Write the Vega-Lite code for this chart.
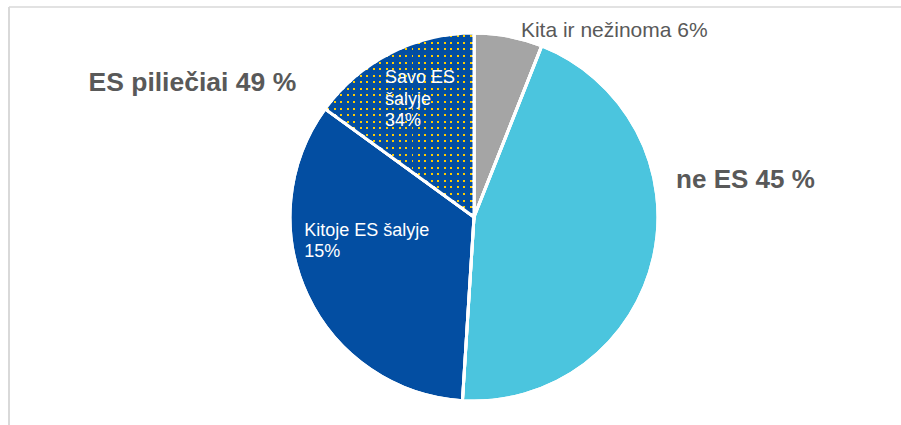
{
 "$schema": "https://vega.github.io/schema/vega-lite/v6.json",
 "width": 892,
 "height": 418,
 "autosize": {"type": "none"},
 "padding": {"left": 9, "top": 7, "right": 0, "bottom": 0},
 "background": "white",
 "config": {
  "view": {"stroke": null},
  "text": {"font": "Liberation Sans"}
 },
 "data": {"values": [
  {"cat": "Kita ir nežinoma", "value": 6, "ord": 1, "label": "Kita ir nežinoma 6%", "group": ""},
  {"cat": "ne ES", "value": 45, "ord": 2, "label": "", "group": "ne ES 45 %"},
  {"cat": "Kitoje ES šalyje", "value": 34, "ord": 3, "label": "Kitoje ES šalyje\n15%", "group": ""},
  {"cat": "Savo ES šalyje", "value": 15, "ord": 4, "label": "Savo ES\nšalyje\n34%", "group": "ES piliečiai 49 %"}
 ]},
 "layer": [
  {
   "data": {"values": [{"edge": "top"}]},
   "mark": {"type": "rule", "stroke": "#d9d9d9", "strokeWidth": 1.5},
   "encoding": {"y": {"value": 0}}
  },
  {
   "data": {"values": [{"edge": "left"}]},
   "mark": {"type": "rule", "stroke": "#d9d9d9", "strokeWidth": 2},
   "encoding": {"x": {"value": 0}}
  },
  {
   "encoding": {
    "theta": {"field": "value", "type": "quantitative", "stack": true},
    "order": {"field": "ord", "type": "quantitative"}
   },
   "layer": [
    {
     "mark": {"type": "arc", "outerRadius": 184, "stroke": "white", "strokeWidth": 3, "x": {"expr": "width/2+19"}, "y": {"expr": "height/2+1"}},
     "encoding": {"fill": {
      "condition": [
       {"test": "datum.ord===1", "value": "#a5a5a5"},
       {"test": "datum.ord===2", "value": "#4bc5de"},
       {"test": "datum.ord===3", "value": "#034ea2"}
      ],
      "value": {"gradient": "linear", "x1": 0, "y1": 0, "x2": 1, "y2": 0, "stops": [
       {"offset": 0, "color": "#034ea2"},
       {"offset": 0.015, "color": "#034ea2"}, {"offset": 0.015, "color": "#ffcc00"}, {"offset": 0.028, "color": "#ffcc00"}, {"offset": 0.028, "color": "#034ea2"},
       {"offset": 0.0585, "color": "#034ea2"}, {"offset": 0.0585, "color": "#ffcc00"}, {"offset": 0.0715, "color": "#ffcc00"}, {"offset": 0.0715, "color": "#034ea2"},
       {"offset": 0.102, "color": "#034ea2"}, {"offset": 0.102, "color": "#ffcc00"}, {"offset": 0.115, "color": "#ffcc00"}, {"offset": 0.115, "color": "#034ea2"},
       {"offset": 0.1454, "color": "#034ea2"}, {"offset": 0.1454, "color": "#ffcc00"}, {"offset": 0.1584, "color": "#ffcc00"}, {"offset": 0.1584, "color": "#034ea2"},
       {"offset": 0.1889, "color": "#034ea2"}, {"offset": 0.1889, "color": "#ffcc00"}, {"offset": 0.2019, "color": "#ffcc00"}, {"offset": 0.2019, "color": "#034ea2"},
       {"offset": 0.2324, "color": "#034ea2"}, {"offset": 0.2324, "color": "#ffcc00"}, {"offset": 0.2454, "color": "#ffcc00"}, {"offset": 0.2454, "color": "#034ea2"},
       {"offset": 0.2759, "color": "#034ea2"}, {"offset": 0.2759, "color": "#ffcc00"}, {"offset": 0.2889, "color": "#ffcc00"}, {"offset": 0.2889, "color": "#034ea2"},
       {"offset": 0.3194, "color": "#034ea2"}, {"offset": 0.3194, "color": "#ffcc00"}, {"offset": 0.3324, "color": "#ffcc00"}, {"offset": 0.3324, "color": "#034ea2"},
       {"offset": 0.3628, "color": "#034ea2"}, {"offset": 0.3628, "color": "#ffcc00"}, {"offset": 0.3758, "color": "#ffcc00"}, {"offset": 0.3758, "color": "#034ea2"},
       {"offset": 0.4063, "color": "#034ea2"}, {"offset": 0.4063, "color": "#ffcc00"}, {"offset": 0.4193, "color": "#ffcc00"}, {"offset": 0.4193, "color": "#034ea2"},
       {"offset": 0.4498, "color": "#034ea2"}, {"offset": 0.4498, "color": "#ffcc00"}, {"offset": 0.4628, "color": "#ffcc00"}, {"offset": 0.4628, "color": "#034ea2"},
       {"offset": 0.4933, "color": "#034ea2"}, {"offset": 0.4933, "color": "#ffcc00"}, {"offset": 0.5063, "color": "#ffcc00"}, {"offset": 0.5063, "color": "#034ea2"},
       {"offset": 0.5367, "color": "#034ea2"}, {"offset": 0.5367, "color": "#ffcc00"}, {"offset": 0.5497, "color": "#ffcc00"}, {"offset": 0.5497, "color": "#034ea2"},
       {"offset": 0.5802, "color": "#034ea2"}, {"offset": 0.5802, "color": "#ffcc00"}, {"offset": 0.5932, "color": "#ffcc00"}, {"offset": 0.5932, "color": "#034ea2"},
       {"offset": 0.6237, "color": "#034ea2"}, {"offset": 0.6237, "color": "#ffcc00"}, {"offset": 0.6367, "color": "#ffcc00"}, {"offset": 0.6367, "color": "#034ea2"},
       {"offset": 0.6672, "color": "#034ea2"}, {"offset": 0.6672, "color": "#ffcc00"}, {"offset": 0.6802, "color": "#ffcc00"}, {"offset": 0.6802, "color": "#034ea2"},
       {"offset": 0.7107, "color": "#034ea2"}, {"offset": 0.7107, "color": "#ffcc00"}, {"offset": 0.7237, "color": "#ffcc00"}, {"offset": 0.7237, "color": "#034ea2"},
       {"offset": 0.7541, "color": "#034ea2"}, {"offset": 0.7541, "color": "#ffcc00"}, {"offset": 0.7671, "color": "#ffcc00"}, {"offset": 0.7671, "color": "#034ea2"},
       {"offset": 0.7976, "color": "#034ea2"}, {"offset": 0.7976, "color": "#ffcc00"}, {"offset": 0.8106, "color": "#ffcc00"}, {"offset": 0.8106, "color": "#034ea2"},
       {"offset": 0.8411, "color": "#034ea2"}, {"offset": 0.8411, "color": "#ffcc00"}, {"offset": 0.8541, "color": "#ffcc00"}, {"offset": 0.8541, "color": "#034ea2"},
       {"offset": 0.8846, "color": "#034ea2"}, {"offset": 0.8846, "color": "#ffcc00"}, {"offset": 0.8976, "color": "#ffcc00"}, {"offset": 0.8976, "color": "#034ea2"},
       {"offset": 0.928, "color": "#034ea2"}, {"offset": 0.928, "color": "#ffcc00"}, {"offset": 0.941, "color": "#ffcc00"}, {"offset": 0.941, "color": "#034ea2"},
       {"offset": 0.9715, "color": "#034ea2"}, {"offset": 0.9715, "color": "#ffcc00"}, {"offset": 0.9845, "color": "#ffcc00"}, {"offset": 0.9845, "color": "#034ea2"},
       {"offset": 1, "color": "#034ea2"}
      ]}
     }}
    },
    {
     "mark": {"type": "arc", "outerRadius": 184, "stroke": "white", "strokeWidth": 3, "x": {"expr": "width/2+19"}, "y": {"expr": "height/2+1"}},
     "encoding": {"fill": {
      "condition": {"test": "datum.ord===4", "value": {"gradient": "linear", "x1": 0, "y1": 0, "x2": 0, "y2": 1, "stops": [
       {"offset": 0, "color": "#034ea2"},
       {"offset": 0.012, "color": "#034ea2"}, {"offset": 0.012, "color": "rgba(3,78,162,0)"}, {"offset": 0.023, "color": "rgba(3,78,162,0)"}, {"offset": 0.023, "color": "#034ea2"},
       {"offset": 0.0477, "color": "#034ea2"}, {"offset": 0.0477, "color": "rgba(3,78,162,0)"}, {"offset": 0.0587, "color": "rgba(3,78,162,0)"}, {"offset": 0.0587, "color": "#034ea2"},
       {"offset": 0.0834, "color": "#034ea2"}, {"offset": 0.0834, "color": "rgba(3,78,162,0)"}, {"offset": 0.0944, "color": "rgba(3,78,162,0)"}, {"offset": 0.0944, "color": "#034ea2"},
       {"offset": 0.1191, "color": "#034ea2"}, {"offset": 0.1191, "color": "rgba(3,78,162,0)"}, {"offset": 0.1301, "color": "rgba(3,78,162,0)"}, {"offset": 0.1301, "color": "#034ea2"},
       {"offset": 0.1549, "color": "#034ea2"}, {"offset": 0.1549, "color": "rgba(3,78,162,0)"}, {"offset": 0.1659, "color": "rgba(3,78,162,0)"}, {"offset": 0.1659, "color": "#034ea2"},
       {"offset": 0.1906, "color": "#034ea2"}, {"offset": 0.1906, "color": "rgba(3,78,162,0)"}, {"offset": 0.2016, "color": "rgba(3,78,162,0)"}, {"offset": 0.2016, "color": "#034ea2"},
       {"offset": 0.2263, "color": "#034ea2"}, {"offset": 0.2263, "color": "rgba(3,78,162,0)"}, {"offset": 0.2373, "color": "rgba(3,78,162,0)"}, {"offset": 0.2373, "color": "#034ea2"},
       {"offset": 0.262, "color": "#034ea2"}, {"offset": 0.262, "color": "rgba(3,78,162,0)"}, {"offset": 0.273, "color": "rgba(3,78,162,0)"}, {"offset": 0.273, "color": "#034ea2"},
       {"offset": 0.2977, "color": "#034ea2"}, {"offset": 0.2977, "color": "rgba(3,78,162,0)"}, {"offset": 0.3087, "color": "rgba(3,78,162,0)"}, {"offset": 0.3087, "color": "#034ea2"},
       {"offset": 0.3334, "color": "#034ea2"}, {"offset": 0.3334, "color": "rgba(3,78,162,0)"}, {"offset": 0.3444, "color": "rgba(3,78,162,0)"}, {"offset": 0.3444, "color": "#034ea2"},
       {"offset": 0.3691, "color": "#034ea2"}, {"offset": 0.3691, "color": "rgba(3,78,162,0)"}, {"offset": 0.3801, "color": "rgba(3,78,162,0)"}, {"offset": 0.3801, "color": "#034ea2"},
       {"offset": 0.4049, "color": "#034ea2"}, {"offset": 0.4049, "color": "rgba(3,78,162,0)"}, {"offset": 0.4159, "color": "rgba(3,78,162,0)"}, {"offset": 0.4159, "color": "#034ea2"},
       {"offset": 0.4406, "color": "#034ea2"}, {"offset": 0.4406, "color": "rgba(3,78,162,0)"}, {"offset": 0.4516, "color": "rgba(3,78,162,0)"}, {"offset": 0.4516, "color": "#034ea2"},
       {"offset": 0.4763, "color": "#034ea2"}, {"offset": 0.4763, "color": "rgba(3,78,162,0)"}, {"offset": 0.4873, "color": "rgba(3,78,162,0)"}, {"offset": 0.4873, "color": "#034ea2"},
       {"offset": 0.512, "color": "#034ea2"}, {"offset": 0.512, "color": "rgba(3,78,162,0)"}, {"offset": 0.523, "color": "rgba(3,78,162,0)"}, {"offset": 0.523, "color": "#034ea2"},
       {"offset": 0.5477, "color": "#034ea2"}, {"offset": 0.5477, "color": "rgba(3,78,162,0)"}, {"offset": 0.5587, "color": "rgba(3,78,162,0)"}, {"offset": 0.5587, "color": "#034ea2"},
       {"offset": 0.5834, "color": "#034ea2"}, {"offset": 0.5834, "color": "rgba(3,78,162,0)"}, {"offset": 0.5944, "color": "rgba(3,78,162,0)"}, {"offset": 0.5944, "color": "#034ea2"},
       {"offset": 0.6191, "color": "#034ea2"}, {"offset": 0.6191, "color": "rgba(3,78,162,0)"}, {"offset": 0.6301, "color": "rgba(3,78,162,0)"}, {"offset": 0.6301, "color": "#034ea2"},
       {"offset": 0.6549, "color": "#034ea2"}, {"offset": 0.6549, "color": "rgba(3,78,162,0)"}, {"offset": 0.6659, "color": "rgba(3,78,162,0)"}, {"offset": 0.6659, "color": "#034ea2"},
       {"offset": 0.6906, "color": "#034ea2"}, {"offset": 0.6906, "color": "rgba(3,78,162,0)"}, {"offset": 0.7016, "color": "rgba(3,78,162,0)"}, {"offset": 0.7016, "color": "#034ea2"},
       {"offset": 0.7263, "color": "#034ea2"}, {"offset": 0.7263, "color": "rgba(3,78,162,0)"}, {"offset": 0.7373, "color": "rgba(3,78,162,0)"}, {"offset": 0.7373, "color": "#034ea2"},
       {"offset": 0.762, "color": "#034ea2"}, {"offset": 0.762, "color": "rgba(3,78,162,0)"}, {"offset": 0.773, "color": "rgba(3,78,162,0)"}, {"offset": 0.773, "color": "#034ea2"},
       {"offset": 0.7977, "color": "#034ea2"}, {"offset": 0.7977, "color": "rgba(3,78,162,0)"}, {"offset": 0.8087, "color": "rgba(3,78,162,0)"}, {"offset": 0.8087, "color": "#034ea2"},
       {"offset": 0.8334, "color": "#034ea2"}, {"offset": 0.8334, "color": "rgba(3,78,162,0)"}, {"offset": 0.8444, "color": "rgba(3,78,162,0)"}, {"offset": 0.8444, "color": "#034ea2"},
       {"offset": 0.8691, "color": "#034ea2"}, {"offset": 0.8691, "color": "rgba(3,78,162,0)"}, {"offset": 0.8801, "color": "rgba(3,78,162,0)"}, {"offset": 0.8801, "color": "#034ea2"},
       {"offset": 0.9049, "color": "#034ea2"}, {"offset": 0.9049, "color": "rgba(3,78,162,0)"}, {"offset": 0.9159, "color": "rgba(3,78,162,0)"}, {"offset": 0.9159, "color": "#034ea2"},
       {"offset": 0.9406, "color": "#034ea2"}, {"offset": 0.9406, "color": "rgba(3,78,162,0)"}, {"offset": 0.9516, "color": "rgba(3,78,162,0)"}, {"offset": 0.9516, "color": "#034ea2"},
       {"offset": 0.9763, "color": "#034ea2"}, {"offset": 0.9763, "color": "rgba(3,78,162,0)"}, {"offset": 0.9873, "color": "rgba(3,78,162,0)"}, {"offset": 0.9873, "color": "#034ea2"},
       {"offset": 1, "color": "#034ea2"}
      ]}},
      "value": "transparent"
     }}
    },
    {
     "mark": {"type": "text", "x": {"expr": "width/2+19"}, "y": {"expr": "height/2+1"}, "radius": 183.5, "dx": 12.5, "align": "left", "baseline": "alphabetic", "fontSize": 21, "fill": "#595959"},
     "encoding": {"text": {"condition": {"test": "datum.ord===1", "field": "label", "type": "nominal"}, "value": ""}}
    },
    {
     "mark": {"type": "text", "x": {"expr": "width/2+19"}, "y": {"expr": "height/2+1"}, "radius": 205, "dx": 2, "dy": -73.5, "align": "left", "baseline": "alphabetic", "fontSize": 26, "fontWeight": "bold", "fill": "#595959"},
     "encoding": {"text": {"condition": {"test": "datum.ord===2", "field": "group", "type": "nominal"}, "value": ""}}
    },
    {
     "mark": {"type": "text", "x": {"expr": "width/2+19"}, "y": {"expr": "height/2+1"}, "radius": 200, "dx": -87, "dy": 52, "align": "right", "baseline": "alphabetic", "fontSize": 26.5, "fontWeight": "bold", "fill": "#595959"},
     "encoding": {"text": {"condition": {"test": "datum.ord===4", "field": "group", "type": "nominal"}, "value": ""}}
    },
    {
     "mark": {"type": "text", "x": {"expr": "width/2+19"}, "y": {"expr": "height/2+1"}, "radius": 150, "dx": -21, "dy": 0, "align": "left", "baseline": "alphabetic", "fontSize": 18, "lineHeight": 21.5, "lineBreak": "\n", "fill": "white"},
     "encoding": {"text": {"condition": {"test": "datum.ord===4", "field": "label", "type": "nominal"}, "value": ""}}
    },
    {
     "mark": {"type": "text", "x": {"expr": "width/2+19"}, "y": {"expr": "height/2+1"}, "radius": 150, "dx": -34, "dy": -45, "align": "left", "baseline": "alphabetic", "fontSize": 18, "lineHeight": 21, "lineBreak": "\n", "fill": "white"},
     "encoding": {"text": {"condition": {"test": "datum.ord===3", "field": "label", "type": "nominal"}, "value": ""}}
    }
   ]
  }
 ]
}
